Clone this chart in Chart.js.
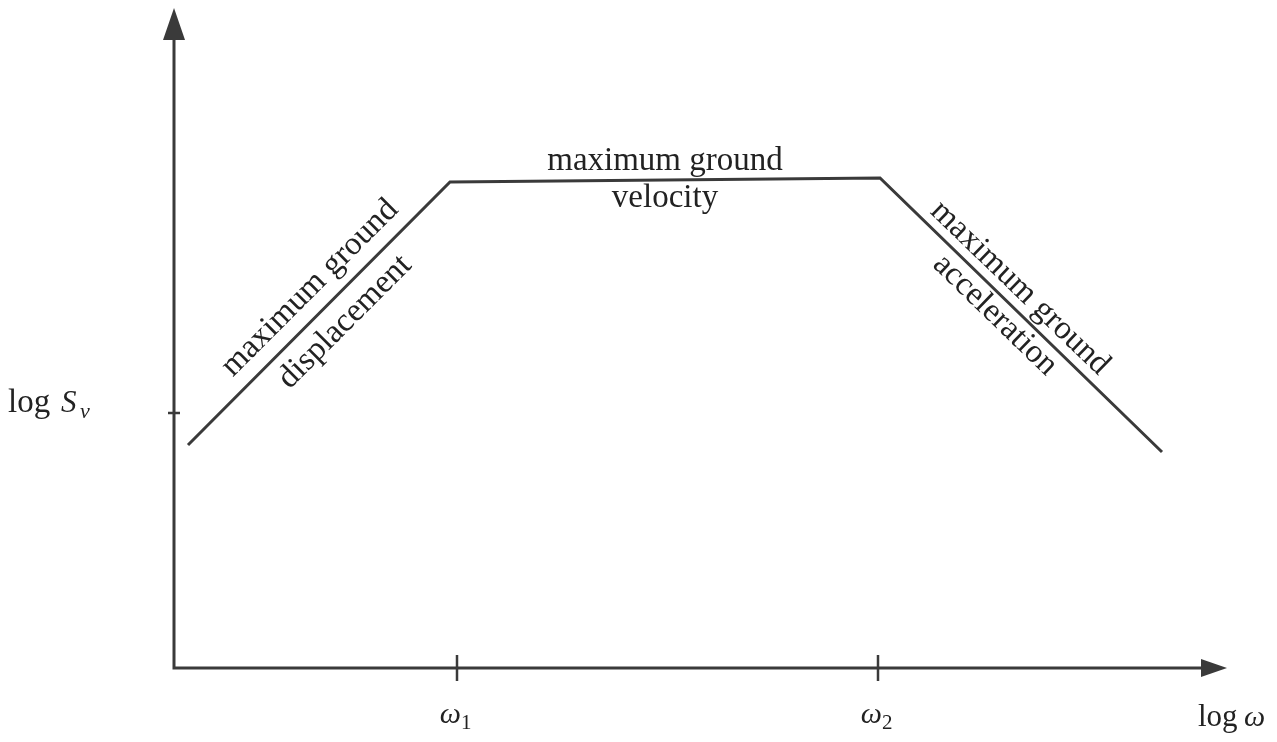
<!DOCTYPE html>
<html lang="en">
<head>
  <meta charset="UTF-8" />
  <title>Response spectrum sketch</title>
  <style>
    html, body { margin: 0; padding: 0; background: #fff; }
    #wrap { width: 1277px; height: 742px; }
  </style>
</head>
<body>
  <div id="wrap"><canvas id="spectrum"></canvas></div>

  <script src="https://cdn.jsdelivr.net/npm/chart.js"></script>
  <script>
    // log omega (x) and log Sv (y), in arbitrary sketch units
    const logOmega = [14, 276, 706, 988];
    const logSv = [223, 486, 490, 216];

    const xTickValues = [283, 704];
    const xTickLabels = ["1", "2"]; // subscripts of omega
    const yTickValues = [255];

    const X_MAX = 1053;
    const Y_MAX = 660;

    const INK = "#3a3a3a";
    const FONT = "Liberation Serif";

    // text along the segments
    const notes = [
      { text: "maximum ground", x: 491, y: 507, angle: 0 },
      { text: "velocity", x: 491, y: 470, angle: 0 },
      { text: "maximum ground", x: 136, y: 380, angle: -45 },
      { text: "displacement", x: 171, y: 346, angle: -45 },
      { text: "maximum ground", x: 846, y: 380, angle: 44 },
      { text: "acceleration", x: 821, y: 353, angle: 44 }
    ];

    const axesPlugin = {
      id: "axesPlugin",
      afterDatasetsDraw(chart) {
        const ctx = chart.ctx;
        const xs = chart.scales.x, ys = chart.scales.y;
        const x0 = xs.getPixelForValue(0), y0 = ys.getPixelForValue(0);
        const x1 = xs.getPixelForValue(X_MAX), y1 = ys.getPixelForValue(Y_MAX);
        ctx.save();
        ctx.strokeStyle = INK;
        ctx.fillStyle = INK;
        ctx.lineWidth = 3;

        // axis lines
        ctx.beginPath();
        ctx.moveTo(x0, y1 + 20);
        ctx.lineTo(x0, y0);
        ctx.lineTo(x1 - 18, y0);
        ctx.stroke();

        // arrowheads
        ctx.beginPath();
        ctx.moveTo(x0, y1);
        ctx.lineTo(x0 - 11, y1 + 32);
        ctx.lineTo(x0 + 11, y1 + 32);
        ctx.closePath();
        ctx.fill();
        ctx.beginPath();
        ctx.moveTo(x1, y0);
        ctx.lineTo(x1 - 26, y0 - 9);
        ctx.lineTo(x1 - 26, y0 + 9);
        ctx.closePath();
        ctx.fill();

        // ticks
        ctx.lineWidth = 2.5;
        xTickValues.forEach(v => {
          const px = xs.getPixelForValue(v);
          ctx.beginPath();
          ctx.moveTo(px, y0 - 13);
          ctx.lineTo(px, y0 + 13);
          ctx.stroke();
        });
        yTickValues.forEach(v => {
          const py = ys.getPixelForValue(v);
          ctx.beginPath();
          ctx.moveTo(x0 - 6, py);
          ctx.lineTo(x0 + 6, py);
          ctx.stroke();
        });

        // tick labels: omega_1, omega_2
        ctx.fillStyle = "#222";
        ctx.textBaseline = "alphabetic";
        xTickValues.forEach((v, i) => {
          const px = xs.getPixelForValue(v);
          ctx.font = "italic 30px " + FONT;
          ctx.textAlign = "right";
          ctx.fillText("ω", px + 4, y0 + 55);
          ctx.font = "21px " + FONT;
          ctx.textAlign = "left";
          ctx.fillText(xTickLabels[i], px + 4, y0 + 61);
        });

        // axis titles
        ctx.textAlign = "left";
        ctx.font = "31px " + FONT;
        ctx.fillText("log", 1198, y0 + 58);
        ctx.font = "italic 30px " + FONT;
        ctx.fillText("ω", 1244, y0 + 58);

        ctx.font = "33px " + FONT;
        ctx.fillText("log", 8, 412);
        ctx.font = "italic 31px " + FONT;
        ctx.fillText("S", 61, 412);
        ctx.font = "italic 22px " + FONT;
        ctx.fillText("v", 80, 418);

        // notes along the curve
        ctx.font = "33px " + FONT;
        ctx.textAlign = "center";
        ctx.textBaseline = "middle";
        notes.forEach(n => {
          ctx.save();
          ctx.translate(xs.getPixelForValue(n.x), ys.getPixelForValue(n.y));
          ctx.rotate(n.angle * Math.PI / 180);
          ctx.fillText(n.text, 0, 0);
          ctx.restore();
        });
        ctx.restore();
      }
    };

    new Chart(document.getElementById("spectrum").getContext("2d"), {
      type: "scatter",
      data: {
        datasets: [{
          data: logOmega.map((x, i) => ({ x: x, y: logSv[i] })),
          showLine: true,
          borderColor: INK,
          borderWidth: 3,
          pointRadius: 0,
          tension: 0
        }]
      },
      options: {
        responsive: true,
        maintainAspectRatio: false,
        animation: false,
        layout: { padding: { left: 174, right: 50, top: 8, bottom: 74 } },
        plugins: { legend: { display: false }, tooltip: { enabled: false } },
        scales: {
          x: { type: "linear", min: 0, max: X_MAX, display: false },
          y: { type: "linear", min: 0, max: Y_MAX, display: false }
        }
      },
      plugins: [axesPlugin]
    });
  </script>
</body>
</html>
